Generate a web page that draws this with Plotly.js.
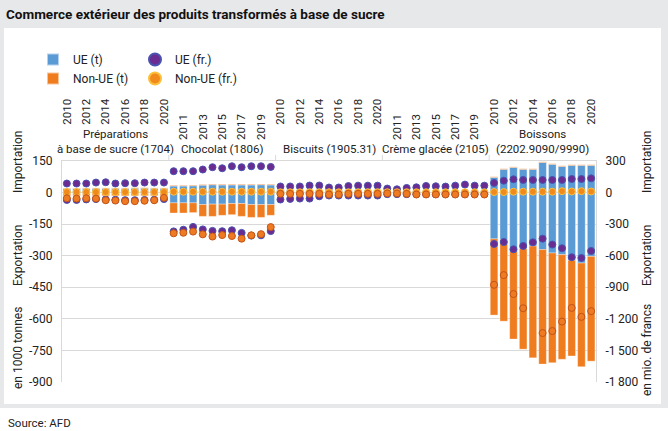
<!DOCTYPE html>
<html>
<head>
<meta charset="utf-8">
<script src="https://cdn.plot.ly/plotly-3.0.1.min.js"></script>
<style>
  html, body { margin: 0; padding: 0; background: #ffffff; }
  #wrap { position: relative; width: 668px; height: 431px; overflow: hidden; background: #ffffff; }
  #frame { position: absolute; left: 0; top: 0; width: 668px; height: 408px; background: #e7e8ea; }
  #panel { position: absolute; left: 4px; top: 28px; width: 657px; height: 376px; background: #ffffff; }
  #chart { position: absolute; left: 0; top: 0; width: 668px; height: 431px; }
</style>
</head>
<body>
<div id="wrap">
  <div id="frame"></div>
  <div id="panel"></div>
  <div id="chart"></div>
</div>
<script>
// ---------------- DATA ----------------
const groupCodes = ["1704", "1806", "1905.31", "2105", "2202.9090/9990"];
const groupLabels = ["Préparations<br>à base de sucre (1704)", "Chocolat (1806)", "Biscuits (1905.31)", "Crème glacée (2105)", "Boissons<br>(2202.9090/9990)"];
const years = [2010, 2011, 2012, 2013, 2014, 2015, 2016, 2017, 2018, 2019, 2020];

// en 1000 tonnes — importations (positives) / exportations (négatives)
const ueImpT = [
  19, 19, 20, 20, 20, 20, 20, 21, 21, 20, 20,
  31, 31, 32, 35, 37, 36, 36, 36, 36, 37, 36,
  12, 12, 12, 12, 12, 12, 12, 12, 12, 12, 12,
  8, 8, 8, 8, 8, 8, 8, 8, 8, 8, 8,
  72, 110, 119, 110, 110, 143, 134, 124, 129, 129, 129
];
const nonUeImpT = [
  2, 2, 2, 2, 2, 2, 2, 2, 2, 2, 2,
  3, 3, 3, 3, 3, 3, 3, 3, 3, 3, 3,
  1, 1, 1, 1, 1, 1, 1, 1, 1, 1, 1,
  1, 1, 1, 1, 1, 1, 1, 1, 1, 1, 1,
  3, 3, 3, 3, 3, 3, 3, 3, 3, 3, 3
];
const ueExpT = [
  -5, -5, -5, -5, -5, -5, -5, -5, -5, -5, -5,
  -49, -49, -49, -57, -55, -55, -52, -52, -57, -57, -57,
  -8, -8, -8, -8, -8, -8, -8, -8, -8, -8, -8,
  -5, -5, -5, -5, -5, -5, -5, -5, -5, -5, -5,
  -220, -224, -281, -267, -254, -271, -287, -295, -322, -335, -303
];
const nonUeExpT = [
  -10, -10, -10, -10, -10, -10, -10, -10, -10, -10, -10,
  -48, -48, -46, -56, -58, -53, -53, -61, -61, -61, -51,
  -3, -3, -3, -3, -3, -3, -3, -3, -3, -3, -3,
  -1, -1, -1, -1, -1, -1, -1, -1, -1, -1, -1,
  -362, -387, -415, -477, -531, -544, -521, -497, -454, -492, -498
];

// en mio. de francs
const ueImpFr = [
  86, 86, 86, 95, 98, 86, 89, 89, 95, 95, 95,
  203, 203, 203, 219, 241, 231, 250, 241, 250, 250, 244,
  58, 58, 58, 67, 67, 48, 48, 62, 66, 66, 66,
  38, 31, 44, 50, 63, 60, 57, 66, 76, 66, 66,
  92, 113, 126, 120, 120, 120, 120, 120, 129, 129, 135
];
const nonUeImpFr = [
  5, 5, 5, 5, 5, 5, 5, 5, 5, 5, 5,
  8, 8, 8, 8, 8, 8, 8, 8, 8, 8, 8,
  3, 3, 3, 3, 3, 3, 3, 3, 3, 3, 3,
  3, 3, 3, 3, 3, 3, 3, 3, 3, 3, 3,
  5, 5, 8, 8, 8, 8, 8, 13, 10, 13, 10
];
const ueExpFr = [
  -70, -70, -65, -62, -65, -68, -72, -72, -70, -68, -62,
  -369, -353, -326, -350, -364, -367, -358, -383, -409, -406, -366,
  -66, -60, -57, -57, -35, -28, -28, -28, -28, -28, -28,
  -15, -15, -15, -15, -15, -15, -15, -15, -15, -15, -15,
  -488, -470, -539, -507, -473, -438, -494, -529, -614, -621, -555
];
const nonUeExpFr = [
  -54, -57, -54, -57, -73, -76, -82, -82, -78, -73, -50,
  -387, -382, -371, -397, -418, -404, -413, -438, -406, -395, -328,
  -12, -12, -12, -12, -12, -18, -18, -12, -12, -12, -12,
  -8, -8, -12, -18, -18, -18, -18, -18, -18, -18, -18,
  -876, -784, -964, -1099, null, -1335, -1316, -1226, -1096, -1181, -1127
];

const leftTicks = [150, 0, -150, -300, -450, -600, -750, -900];
const rightTicks = [300, 0, -300, -600, -900, -1200, -1500, -1800];

// ---------------- BUILD ----------------
const cats = [];
groupCodes.forEach(g => years.forEach(y => cats.push(g + " " + y)));

const tvA = [], ttA = [], tvB = [], ttB = [];
cats.forEach((c, i) => {
  const gi = Math.floor(i / years.length);
  if (i % 2 === 0) {
    const yr = String(years[i % years.length]);
    if (gi % 2 === 0) { tvA.push(c); ttA.push(yr); } else { tvB.push(c); ttB.push(yr); }
  }
});

function fmtThousands(v) {
  const s = String(Math.abs(v));
  const t = s.length > 3 ? s.slice(0, s.length - 3) + "\u2009" + s.slice(s.length - 3) : s;
  return (v < 0 ? "-" : "") + t;
}

const FONT = "Roboto, 'Noto Sans', sans-serif";
const BLUE = "#5b9bd5", ORANGE = "#ef7c1f", PURPLE = "#6a2c91";
const L = 62, R = 596, T = 161, B = 382;
const fx = px => (px - L) / (R - L);
const fy = py => (B - py) / (B - T);

const barLine = { width: 0.6, color: "rgba(255,255,255,0.55)" };
const traces = [
  { type: "bar", x: cats, y: ueImpT, name: "UE (t)", marker: { color: BLUE, line: barLine }, legend: "legend", legendgroup: "ue", hoverinfo: "skip" },
  { type: "bar", x: cats, y: nonUeImpT, name: "Non-UE (t)", marker: { color: ORANGE, line: barLine }, legend: "legend", legendgroup: "nue", hoverinfo: "skip" },
  { type: "bar", x: cats, y: ueExpT, name: "UE (t)", marker: { color: BLUE, line: barLine }, showlegend: false, legendgroup: "ue", hoverinfo: "skip" },
  { type: "bar", x: cats, y: nonUeExpT, name: "Non-UE (t)", marker: { color: ORANGE, line: barLine }, showlegend: false, legendgroup: "nue", hoverinfo: "skip" },
  { type: "scatter", mode: "markers", x: cats, y: ueImpFr, xaxis: "x2", yaxis: "y2", name: "UE (fr.)", legend: "legend2",
    marker: { color: PURPLE, size: 7, line: { color: "#4a52b0", width: 1 } } },
  { type: "scatter", mode: "markers", x: cats, y: ueExpFr, xaxis: "x2", yaxis: "y2", name: "UE (fr.)", showlegend: false,
    marker: { color: PURPLE, size: 7, line: { color: "#4a52b0", width: 1 } } },
  { type: "scatter", mode: "markers", x: cats, y: nonUeImpFr, xaxis: "x2", yaxis: "y2", name: "Non-UE (fr.)", legend: "legend2",
    marker: { color: "#f08a1c", size: 7, line: { color: "#fcc03c", width: 1 } } },
  { type: "scatter", mode: "markers", x: cats, y: nonUeExpFr, xaxis: "x2", yaxis: "y2", name: "Non-UE (fr.)", showlegend: false,
    marker: { color: "#ee7a22", size: 7, line: { color: "#c25418", width: 1 } } }
];

const grid = "#d9d9d9";
const annotations = [];
groupLabels.forEach((g, gi) => {
  annotations.push({ xref: "x", yref: "paper", x: cats[gi * years.length + 5], y: fy(158), yanchor: "bottom", xanchor: "center",
    text: g, showarrow: false, font: { size: 11.5, color: "#222" }, align: "center" });
});
const ax = (text, px, py) => ({ xref: "paper", yref: "paper", x: fx(px), y: fy(py), text, textangle: -90, showarrow: false,
  font: { size: 12, color: "#222" }, xanchor: "center", yanchor: "middle" });
annotations.push(ax("Importation", 18, 162), ax("Exportation", 18, 256), ax("en 1000 tonnes", 18, 348));
annotations.push(ax("Importation", 647, 162), ax("Exportation", 647, 256), ax("en mio. de francs", 647, 350));
annotations.push({ xref: "paper", yref: "paper", x: fx(6), y: fy(423), xanchor: "left", yanchor: "middle", text: "Source: AFD",
  showarrow: false, font: { size: 11.5, color: "#222" } });

const shapes = [];
for (let gi = 1; gi < groupCodes.length; gi++) {
  const b = gi * years.length - 0.5;
  shapes.push({ type: "line", xref: "x", yref: "paper", x0: b, x1: b, y0: 1, y1: fy(155), line: { color: grid, width: 1 } });
}

const catAxis = {
  type: "category", categoryorder: "array", categoryarray: cats, range: [-0.5, cats.length - 0.5],
  side: "top", tickangle: -90, ticks: "", showgrid: false, zeroline: false, fixedrange: true,
  tickfont: { size: 11.5, color: "#222" }
};

const layout = {
  width: 668, height: 431,
  margin: { l: L, r: 668 - R, t: T, b: 431 - B, pad: 0 },
  paper_bgcolor: "rgba(0,0,0,0)", plot_bgcolor: "rgba(0,0,0,0)",
  font: { family: FONT, size: 12, color: "#222" },
  title: { text: "<b>Commerce extérieur des produits transformés à base de sucre</b>", xref: "container", yref: "container",
    x: 6 / 668, xanchor: "left", y: 1 - 14 / 431, yanchor: "middle", font: { size: 13.5, color: "#111" } },
  barmode: "relative", bargap: 0.22,
  xaxis: Object.assign({}, catAxis, { tickvals: tvA, ticktext: ttA, ticklabelstandoff: 33, showline: true, linecolor: grid, anchor: "y" }),
  xaxis2: Object.assign({}, catAxis, { tickvals: tvB, ticktext: ttB, ticklabelstandoff: 20, showline: false, overlaying: "x", anchor: "y2" }),
  yaxis: { range: [-900, 150], tickvals: leftTicks, ticktext: leftTicks.map(String), showgrid: true, gridcolor: grid,
    zeroline: false, showline: true, linecolor: grid, ticks: "", ticklabelstandoff: 6, tickfont: { size: 12 }, fixedrange: true },
  yaxis2: { range: [-1800, 300], overlaying: "y", side: "right", tickvals: rightTicks, ticktext: rightTicks.map(fmtThousands),
    showgrid: false, zeroline: false, showline: true, linecolor: grid, ticks: "", ticklabelstandoff: 6, tickfont: { size: 12 }, fixedrange: true },
  legend: { x: fx(33), xanchor: "left", y: fy(45), yanchor: "top", bgcolor: "rgba(0,0,0,0)", font: { size: 12 }, traceorder: "normal", itemsizing: "constant" },
  legend2: { x: fx(135), xanchor: "left", y: fy(45), yanchor: "top", bgcolor: "rgba(0,0,0,0)", font: { size: 12 }, traceorder: "normal", itemsizing: "constant" },
  annotations, shapes, showlegend: true
};

Plotly.newPlot("chart", traces, layout, { displayModeBar: false, staticPlot: true });
</script>
</body>
</html>
